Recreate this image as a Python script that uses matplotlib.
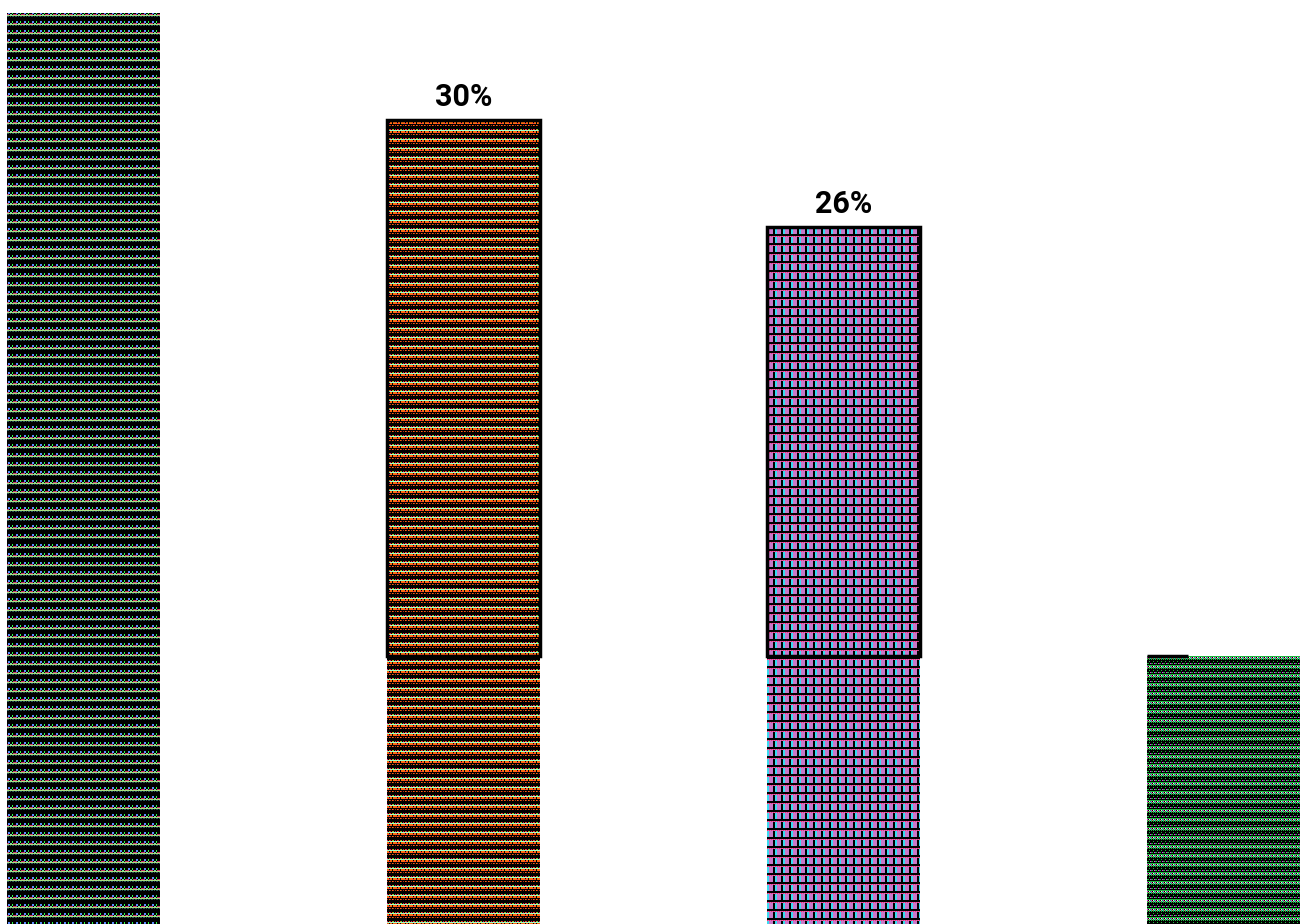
import numpy as np
import matplotlib
matplotlib.use("Agg")
import matplotlib.pyplot as plt
from matplotlib.colors import to_rgb
from matplotlib.patches import Rectangle

# Bar values (percent) and which bars carry a value label / outline
values = [34, 30, 26, 10]
show_label = [False, True, True, False]
outlined = [False, True, True, False]
outline_floor = 10

# Pixel-tile fills, one per bar (rows x cols of palette keys)
palettes = [
    {".": "#000000", "b": "#5a8cff", "g": "#30ff40", "p": "#d03c70",
     "t": "#70e0b0", "l": "#a8e080", "d": "#2a5858"},
    {".": "#000000", "o": "#ff6a10", "m": "#e0106a", "g": "#40ff40",
     "a": "#a0ffc8", "r": "#b03018"},
    {".": "#000000", "c": "#38dcf0", "p": "#c878c8", "r": "#ff2a70"},
    {".": "#000000", "g": "#20b840", "m": "#ff10ff", "w": "#d0ffe0",
     "p": "#e06080", "c": "#30e0e0"},
]
tiles = [
    [".bb..g..",
     ".bb..g..",
     "pp.tt.pp",
     "llllllll",
     "dd.d.dd.",
     "........",
     "........",
     "........",
     "........"],
    ["m.om.og.",
     "aaaaaaaa",
     "oo.oo.oo",
     "oomoo.oo",
     "........",
     "r.or.or.",
     "........",
     "........",
     "........"],
    ["rprprprp",
     "ccpppp..",
     "ccpppp..",
     "ccpppp..",
     "ccpppp..",
     "ccpppp..",
     "ccpppp..",
     "........",
     "........"],
    ["gggggggg",
     "m.wgm.wg",
     "gpgcgpgc",
     "g.g.g.g.",
     "........",
     "..g...g.",
     "........",
     "gg.mgg.m",
     "........"],
]


def tile_rgb(rows, pal):
    return np.array([[to_rgb(pal[ch]) for ch in row] for row in rows])


W, H, DPI = 1300, 924, 100
slot = 380.0           # pixel distance between bar centres
first_centre = 83.5    # pixel x of the first bar centre
bar_px = 153.0
ymax = 34.48

fig = plt.figure(figsize=(W / DPI, H / DPI), dpi=DPI)
ax = fig.add_axes([0, 0, 1, 1])
ax.set_xlim(-first_centre / slot, (W - first_centre) / slot)
ax.set_ylim(0, ymax)
ax.axis("off")

x = np.arange(len(values))
width = bar_px / slot
bars = ax.bar(x, values, width, color="none", linewidth=0, zorder=2)

px_per_unit = H / ymax
for i, (patch, v) in enumerate(zip(bars, values)):
    tile = tile_rgb(tiles[i], palettes[i])
    h_px = int(np.ceil(v * px_per_unit))
    reps_y = h_px // tile.shape[0] + 1
    reps_x = int(bar_px) // tile.shape[1] + 1
    img = np.tile(tile, (reps_y, reps_x, 1))[:h_px, :int(bar_px)]
    x0 = x[i] - width / 2
    im = ax.imshow(img, extent=(x0, x0 + width, v - h_px / px_per_unit, v),
                   origin="upper", interpolation="nearest", aspect="auto",
                   zorder=2)
    im.set_clip_path(patch)

    if outlined[i]:
        ax.add_patch(Rectangle((x0, outline_floor), width, v - outline_floor,
                               fill=False, edgecolor="black", linewidth=2.5,
                               zorder=3))
    if show_label[i]:
        ax.annotate(f"{v}%", (x[i], v), xytext=(0, 10),
                    textcoords="offset points", ha="center", va="baseline",
                    fontsize=22, fontweight="bold", family="Roboto",
                    color="black", zorder=4)

# short top stroke on the last bar
x_last = x[-1] - width / 2
ax.plot([x_last, x_last + 41 / slot], [values[-1], values[-1]],
        color="black", linewidth=2.5, solid_capstyle="butt", zorder=3)

ax.set_xlim(-first_centre / slot, (W - first_centre) / slot)
ax.set_ylim(0, ymax)
fig.savefig("out.png", dpi=DPI)
